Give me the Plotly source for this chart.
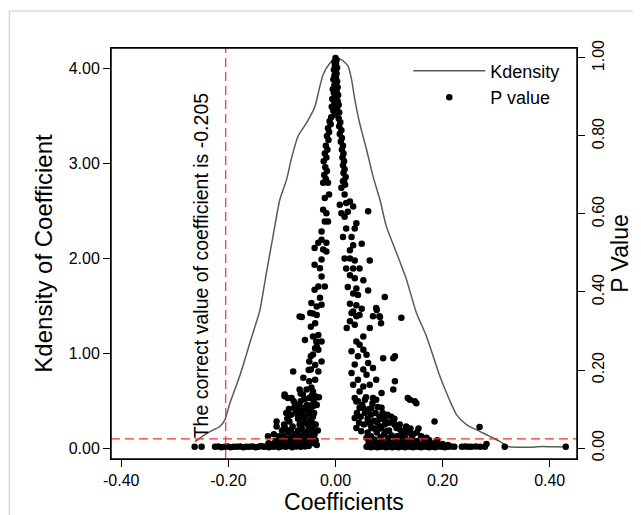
import plotly.graph_objects as go

# ---------------- data ----------------
# Kernel density of the estimated coefficient (left axis)
kd_coef = [-0.2626, -0.245, -0.230, -0.216, -0.2066, -0.197, -0.188, -0.179, -0.17, -0.16,
           -0.15, -0.141, -0.129, -0.1165, -0.104, -0.0915, -0.082, -0.07, -0.054, -0.0386,
           -0.029, -0.023, -0.0106, 0.0, 0.01, 0.017, 0.0235, 0.03, 0.036, 0.045,
           0.058, 0.07, 0.083, 0.095, 0.114, 0.1325, 0.151, 0.17, 0.195, 0.213,
           0.226, 0.2445, 0.269, 0.288, 0.3066, 0.322, 0.34, 0.36, 0.388, 0.41, 0.43]
kd_dens = [0.07, 0.14, 0.19, 0.23, 0.30, 0.48, 0.62, 0.76, 0.92, 1.11,
           1.29, 1.46, 1.85, 2.24, 2.62, 2.83, 3.06, 3.29, 3.43, 3.6,
           3.82, 3.94, 4.06, 4.11, 4.1, 4.07, 4.03, 3.89, 3.68, 3.43,
           3.15, 2.87, 2.62, 2.34, 2.06, 1.78, 1.43, 1.18, 0.76, 0.51,
           0.355, 0.25, 0.18, 0.127, 0.074, 0.02, 0.012, 0.012, 0.02, 0.016, 0.014]

# P values of the coefficient (right axis), grouped by region of the cloud
peak_coef = [0.000, 0.002, -0.002, 0.001, -0.001, 0.003, -0.003, 0.000, 0.002, -0.002,
             0.001, -0.004, 0.003, 0.000, -0.002, 0.004, -0.005, 0.002, -0.003, 0.005,
             0.000, -0.006, 0.004, -0.002, 0.006, -0.007, 0.003, -0.004, 0.007, -0.001]
peak_pval = [1.000, 0.995, 0.990, 0.985, 0.980, 0.975, 0.970, 0.965, 0.960, 0.955,
             0.950, 0.945, 0.940, 0.935, 0.930, 0.925, 0.920, 0.915, 0.910, 0.905,
             0.900, 0.895, 0.890, 0.885, 0.880, 0.875, 0.870, 0.865, 0.860, 0.855]

left_coef = [-0.008, -0.011, -0.009, -0.014, -0.012, -0.016, -0.013, -0.018, -0.015, -0.020,
             -0.017, -0.022, -0.019, -0.016, -0.021, -0.018, -0.023,
             -0.014, -0.012, -0.020, -0.023, -0.017, -0.020, -0.014, -0.026, -0.026, -0.032,
             -0.017, -0.039, -0.023, -0.017, -0.026, -0.039, -0.029, -0.026, -0.032, -0.039,
             -0.020, -0.029, -0.045, -0.035, -0.026, -0.047, -0.063,
             -0.067, -0.042, -0.035, -0.038, -0.046, -0.032, -0.042, -0.057, -0.036, -0.026,
             -0.038, -0.032, -0.046, -0.049, -0.026, -0.038, -0.046, -0.079, -0.032, -0.049,
             -0.038, -0.067, -0.054, -0.042, -0.095, -0.082, -0.061, -0.048, -0.038, -0.067,
             -0.076, -0.054, -0.042,
             -0.126, -0.110, -0.110, -0.092, -0.086, -0.095, -0.083, -0.077, -0.071, -0.067,
             -0.073, -0.065, -0.058, -0.061, -0.052, -0.048, -0.054, -0.049, -0.043, -0.046,
             -0.043, -0.049, -0.065, -0.084, -0.102, -0.089, -0.095]
left_pval = [0.848, 0.838, 0.830, 0.820, 0.810, 0.800, 0.790, 0.775, 0.765, 0.755,
             0.745, 0.735, 0.720, 0.710, 0.700, 0.690, 0.680,
             0.680, 0.650, 0.641, 0.611, 0.602, 0.581, 0.581, 0.555, 0.534, 0.526,
             0.526, 0.513, 0.509, 0.504, 0.483, 0.470, 0.461, 0.440, 0.414, 0.406,
             0.414, 0.385, 0.372, 0.363, 0.367, 0.346, 0.336,
             0.337, 0.345, 0.341, 0.320, 0.311, 0.290, 0.286, 0.277, 0.273, 0.273,
             0.256, 0.252, 0.235, 0.222, 0.222, 0.213, 0.201, 0.196, 0.196, 0.171,
             0.175, 0.150, 0.150, 0.145, 0.133, 0.128, 0.137, 0.128, 0.133, 0.107,
             0.107, 0.107, 0.107,
             0.030, 0.068, 0.055, 0.090, 0.068, 0.055, 0.047, 0.103, 0.085, 0.060,
             0.034, 0.120, 0.103, 0.077, 0.060, 0.043, 0.030, 0.128, 0.111, 0.085,
             0.064, 0.017, 0.017, 0.017, 0.017, 0.128, 0.137]

left_low_coef = [-0.105, -0.100, -0.096, -0.090, -0.087, -0.083, -0.080, -0.078, -0.074, -0.070,
                 -0.068, -0.064, -0.062, -0.058, -0.056, -0.053, -0.050, -0.047, -0.044, -0.040,
                 -0.037, -0.035, -0.033, -0.031, -0.045, -0.075, -0.090, -0.115]
left_low_pval = [0.030, 0.045, 0.060, 0.075, 0.100, 0.085, 0.055, 0.120, 0.095, 0.075,
                 0.100, 0.060, 0.090, 0.125, 0.080, 0.110, 0.055, 0.100, 0.135, 0.090,
                 0.060, 0.110, 0.045, 0.130, 0.025, 0.025, 0.045, 0.035]

right_coef = [0.006, 0.009, 0.007, 0.011, 0.008, 0.012, 0.010, 0.014, 0.012, 0.015,
              0.013, 0.016, 0.014, 0.017, 0.015, 0.019, 0.016, 0.018,
              0.014, 0.011, 0.017, 0.008, 0.020, 0.027, 0.011, 0.023, 0.033, 0.017,
              0.061, 0.039, 0.020, 0.036, 0.030, 0.014, 0.049, 0.033, 0.027, 0.017,
              0.027, 0.036, 0.064, 0.020, 0.033, 0.045, 0.027, 0.036, 0.052, 0.023,
              0.039, 0.033, 0.061, 0.042, 0.092, 0.027, 0.039, 0.049, 0.033, 0.077,
              0.045, 0.083, 0.123, 0.076,
              0.030, 0.039, 0.070, 0.082, 0.085, 0.027, 0.036, 0.064, 0.021, 0.052,
              0.039, 0.045, 0.030, 0.052, 0.058, 0.042, 0.089, 0.108, 0.036, 0.061,
              0.070, 0.052, 0.030, 0.058, 0.042, 0.076, 0.111, 0.033, 0.052, 0.064,
              0.045, 0.086, 0.108, 0.039, 0.055, 0.070, 0.139, 0.151, 0.052, 0.067,
              0.036, 0.045, 0.036, 0.039, 0.048, 0.058, 0.061, 0.067, 0.058, 0.076,
              0.086, 0.089, 0.083, 0.095, 0.108, 0.114, 0.123, 0.135, 0.148, 0.129,
              0.142, 0.170, 0.185, 0.269, 0.111]
right_pval = [0.845, 0.835, 0.825, 0.815, 0.805, 0.795, 0.785, 0.775, 0.765, 0.755,
              0.745, 0.735, 0.725, 0.715, 0.705, 0.695, 0.685, 0.675,
              0.684, 0.667, 0.650, 0.624, 0.628, 0.632, 0.602, 0.606, 0.619, 0.593,
              0.607, 0.576, 0.563, 0.563, 0.541, 0.541, 0.524, 0.520, 0.507, 0.486,
              0.486, 0.481, 0.481, 0.460, 0.460, 0.460, 0.443, 0.435, 0.430, 0.413,
              0.409, 0.396, 0.404, 0.392, 0.387, 0.370, 0.366, 0.357, 0.350, 0.354,
              0.341, 0.336, 0.334, 0.359,
              0.346, 0.338, 0.338, 0.338, 0.320, 0.325, 0.316, 0.308, 0.308, 0.286,
              0.273, 0.265, 0.248, 0.252, 0.239, 0.235, 0.230, 0.230, 0.214, 0.218,
              0.205, 0.201, 0.192, 0.188, 0.175, 0.175, 0.171, 0.162, 0.158, 0.162,
              0.145, 0.141, 0.150, 0.119, 0.124, 0.128, 0.124, 0.115, 0.102, 0.102,
              0.128, 0.103, 0.077, 0.051, 0.043, 0.094, 0.068, 0.051, 0.026, 0.124,
              0.103, 0.077, 0.055, 0.043, 0.068, 0.051, 0.043, 0.128, 0.120, 0.030,
              0.034, 0.026, 0.068, 0.054, 0.235]

right_low_coef = [0.040, 0.042, 0.044, 0.047, 0.050, 0.053, 0.055, 0.057, 0.060, 0.063,
                  0.066, 0.069, 0.072, 0.075, 0.079, 0.082, 0.085, 0.088, 0.093, 0.097,
                  0.100, 0.104, 0.110, 0.115, 0.120, 0.126, 0.132, 0.137, 0.145, 0.155,
                  0.165, 0.175, 0.190]
right_low_pval = [0.090, 0.120, 0.065, 0.080, 0.110, 0.060, 0.090, 0.130, 0.075, 0.100,
                  0.085, 0.115, 0.070, 0.090, 0.105, 0.080, 0.075, 0.090, 0.070, 0.085,
                  0.065, 0.080, 0.075, 0.030, 0.060, 0.035, 0.055, 0.040, 0.035, 0.050,
                  0.025, 0.020, 0.020]

base_coef = [-0.263, -0.250, -0.225, -0.219, -0.213, -0.207, -0.201, -0.196, -0.190, -0.184,
             -0.178, -0.172, -0.167, -0.161, -0.155, -0.149, -0.144, -0.139, -0.134, -0.129,
             -0.124, -0.119, -0.115, -0.110, -0.106, -0.101, -0.097, -0.093, -0.089, -0.085,
             -0.081, -0.077, -0.073, -0.069, -0.065, -0.061, -0.057, -0.053, -0.050,
             -0.125, -0.118, -0.112, -0.108, -0.104, -0.100, -0.097, -0.094, -0.091, -0.088,
             -0.085, -0.082, -0.079, -0.076, -0.073, -0.070, -0.068, -0.066, -0.063, -0.061,
             -0.059, -0.057, -0.055, -0.053, -0.051, -0.049, -0.047, -0.045, -0.043, -0.041,
             -0.039, -0.037, -0.035, -0.060, -0.050, -0.042, -0.055, -0.070, -0.040, -0.065,
             -0.045, -0.060, -0.050, -0.042, -0.035,
             0.058, 0.062, 0.066, 0.070, 0.074, 0.078, 0.082, 0.086, 0.090, 0.094,
             0.098, 0.102, 0.106, 0.110, 0.114, 0.118, 0.122, 0.126, 0.130, 0.135,
             0.140, 0.145, 0.150, 0.155, 0.160, 0.165, 0.170, 0.175, 0.180, 0.186,
             0.192, 0.198, 0.204, 0.210, 0.216, 0.222, 0.236, 0.242, 0.248, 0.254,
             0.262, 0.270, 0.279, 0.282, 0.316, 0.430,
             0.062, 0.066, 0.070, 0.073, 0.077, 0.080, 0.084, 0.087, 0.091, 0.094,
             0.098, 0.101, 0.105, 0.108, 0.112, 0.116, 0.120, 0.124, 0.128, 0.133,
             0.138, 0.143, 0.148, 0.153, 0.158, 0.165, 0.172, 0.180, 0.190, 0.200,
             0.210, 0.060, 0.065, 0.072, 0.078, 0.085, 0.092, 0.100, 0.110, 0.118,
             0.128, 0.140, 0.152, 0.160]
base_pval = [0.003, 0.003, 0.003, 0.004, 0.002, 0.003, 0.004, 0.002, 0.003, 0.003,
             0.004, 0.002, 0.003, 0.003, 0.004, 0.002, 0.003, 0.005, 0.003, 0.004,
             0.002, 0.005, 0.003, 0.006, 0.002, 0.004, 0.007, 0.003, 0.005, 0.008,
             0.002, 0.006, 0.004, 0.009, 0.003, 0.006, 0.004, 0.008, 0.005,
             0.012, 0.010, 0.018, 0.012, 0.022, 0.015, 0.030, 0.010, 0.024, 0.040,
             0.015, 0.028, 0.010, 0.035, 0.020, 0.045, 0.012, 0.030, 0.050, 0.020,
             0.038, 0.010, 0.065, 0.025, 0.045, 0.015, 0.070, 0.030, 0.050, 0.012,
             0.035, 0.020, 0.008, 0.075, 0.090, 0.080, 0.100, 0.110, 0.120, 0.140,
             0.155, 0.180, 0.200, 0.240, 0.260,
             0.003, 0.004, 0.002, 0.003, 0.005, 0.002, 0.004, 0.003, 0.006, 0.002,
             0.003, 0.005, 0.002, 0.004, 0.003, 0.002, 0.005, 0.003, 0.002, 0.004,
             0.003, 0.002, 0.004, 0.003, 0.002, 0.004, 0.003, 0.002, 0.003, 0.002,
             0.004, 0.003, 0.002, 0.003, 0.004, 0.003, 0.003, 0.004, 0.003, 0.003,
             0.004, 0.003, 0.003, 0.010, 0.003, 0.003,
             0.015, 0.030, 0.010, 0.022, 0.040, 0.012, 0.028, 0.018, 0.035, 0.010,
             0.025, 0.015, 0.032, 0.010, 0.022, 0.012, 0.028, 0.015, 0.010, 0.020,
             0.012, 0.025, 0.010, 0.018, 0.008, 0.012, 0.008, 0.012, 0.008, 0.010,
             0.008, 0.040, 0.060, 0.050, 0.065, 0.050, 0.060, 0.045, 0.060, 0.050,
             0.045, 0.050, 0.040, 0.030]

coef_all = peak_coef + left_coef + left_low_coef + right_coef + right_low_coef + base_coef
pval_all = peak_pval + left_pval + left_low_pval + right_pval + right_low_pval + base_pval

true_coef = -0.205
ref_density = 0.1

x_ticks = [-0.4, -0.2, 0.0, 0.2, 0.4]
x_ticklabels = ["-0.40", "-0.20", "0.00", "0.20", "0.40"]
y_ticks = [0, 1, 2, 3, 4]
y_ticklabels = ["0.00", "1.00", "2.00", "3.00", "4.00"]
y2_ticks = [0, 0.2, 0.4, 0.6, 0.8, 1.0]
y2_ticklabels = ["0.00", "0.20", "0.40", "0.60", "0.80", "1.00"]

# ---------------- figure ----------------
FONT = "Arial, 'Liberation Sans', Helvetica, sans-serif"

fig = go.Figure()
fig.add_trace(go.Scatter(x=kd_coef, y=kd_dens, mode="lines", name="Kdensity",
                         line=dict(color="#5a5a5a", width=1.5, shape="spline", smoothing=0.6),
                         yaxis="y"))
fig.add_trace(go.Scatter(x=coef_all, y=pval_all, mode="markers", name="P value",
                         marker=dict(color="black", size=6.5, line=dict(width=0)),
                         yaxis="y2"))

fig.add_shape(type="line", xref="x", yref="paper", x0=true_coef, x1=true_coef, y0=0, y1=1,
              line=dict(color="#ff2a2a", width=1.2, dash="9px,5px"))
fig.add_shape(type="line", xref="paper", yref="y", x0=0, x1=1, y0=ref_density, y1=ref_density,
              line=dict(color="#ff2a2a", width=1.2, dash="9px,5px"))
# plot frame
fig.add_shape(type="rect", xref="paper", yref="paper", x0=0, x1=1, y0=0, y1=1,
              line=dict(color="black", width=1.5), fillcolor="rgba(0,0,0,0)")
# outer light frame
fig.add_shape(type="rect", xref="paper", yref="paper", x0=-0.2182, x1=1.3, y0=-0.3, y1=1.09,
              line=dict(color="#c8c8c8", width=1), fillcolor="rgba(0,0,0,0)", layer="below")

fig.add_annotation(x=-0.251, y=1.93, xref="x", yref="y",
                   text="The correct value of coefficient is -0.205",
                   textangle=-90, showarrow=False, xanchor="center", yanchor="middle",
                   font=dict(family=FONT, size=19.5, color="black"))

axis_common = dict(showline=True, linecolor="black", linewidth=1, ticks="outside",
                   ticklen=7, tickwidth=1, tickcolor="black", showgrid=False, zeroline=False,
                   automargin=False,
                   tickfont=dict(family=FONT, size=16, color="black"))

fig.update_layout(
    width=633, height=507,
    margin=dict(l=103, r=64, t=40, b=56, autoexpand=False),
    paper_bgcolor="white", plot_bgcolor="white",
    font=dict(family=FONT, color="black"),
    showlegend=True,
    legend=dict(x=0.638, y=0.9888, xanchor="left", yanchor="top", bgcolor="rgba(0,0,0,0)",
                font=dict(family=FONT, size=18, color="black"), itemwidth=72,
                tracegroupgap=0),
    xaxis=dict(range=[-0.4192, 0.451], tickvals=x_ticks, ticktext=x_ticklabels, mirror=True,
               title=dict(text="Coefficients", font=dict(family=FONT, size=23), standoff=8),
               **axis_common),
    yaxis=dict(range=[-0.112, 4.22], tickvals=y_ticks, ticktext=y_ticklabels,
               title=dict(text="Kdensity of Coefficient", font=dict(family=FONT, size=24), standoff=9),
               **axis_common),
    yaxis2=dict(range=[-0.0282, 1.0256], tickvals=y2_ticks, ticktext=y2_ticklabels,
                overlaying="y", side="right", tickangle=-90,
                title=dict(text="P Value", font=dict(family=FONT, size=23), standoff=4),
                **axis_common),
)

fig.write_html("out.html")
